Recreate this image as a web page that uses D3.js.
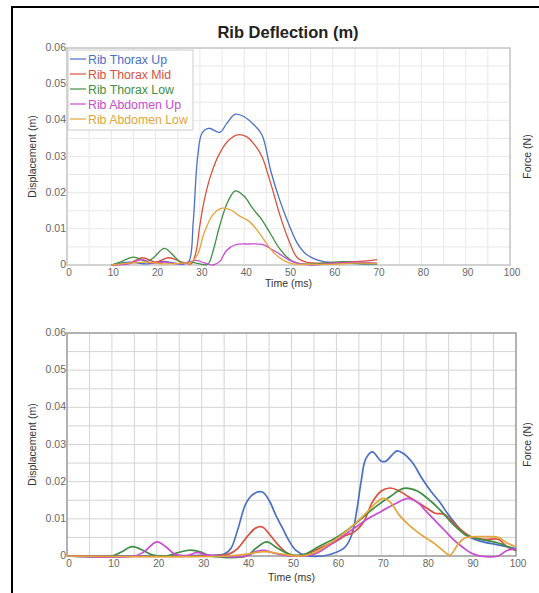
<!DOCTYPE html>
<html>
<head>
<meta charset="utf-8">
<script src="https://cdn.jsdelivr.net/npm/d3@7"></script>
<style>
  body { margin: 0; background: #fff; }
  svg { display: block; font-family: "Liberation Sans", Arial, sans-serif; }
</style>
</head>
<body>
<svg id="chart" width="539" height="593"></svg>
<script>
// series names + colors
const seriesNames = ["Rib Thorax Up", "Rib Thorax Mid", "Rib Thorax Low", "Rib Abdomen Up", "Rib Abdomen Low"];
const seriesColors = ["#4a6fc6", "#d9523e", "#3f8e43", "#c84bd0", "#e3a43a"];

const xTicks = [0, 10, 20, 30, 40, 50, 60, 70, 80, 90, 100];
const yTicks = [0, 0.01, 0.02, 0.03, 0.04, 0.05, 0.06];
const yTickLabels = ["0", "0.01", "0.02", "0.03", "0.04", "0.05", "0.06"];

// top chart: [time ms, displacement m]
const topThoraxUp = [[10,0],[14,0.0008],[18,0.0003],[22,0.001],[26,0.0002],[27.5,0.001],[28.5,0.012],[29.5,0.03],[30.5,0.0365],[32,0.0378],[34.5,0.0367],[36,0.039],[38,0.0417],[40,0.041],[42,0.039],[44,0.036],[46,0.026],[48,0.018],[50,0.0115],[52,0.006],[54,0.003],[57,0.0012],[60,0.0006],[65,0.0004],[70,0.0003]];
const topThoraxMid = [[10,0],[14,0.0005],[17,0.002],[20,0.0008],[23,0.002],[26,0.0008],[28,0.0003],[29,0.003],[30,0.011],[31,0.018],[32.5,0.025],[34.5,0.031],[36.5,0.0345],[38.5,0.036],[40.5,0.0355],[42.5,0.033],[44,0.03],[46,0.0225],[48,0.014],[50,0.007],[52,0.002],[54,0.0008],[58,0.0005],[62,0.0008],[66,0.001],[70,0.0015]];
const topThoraxLow = [[10,0],[12,0.0008],[15,0.0022],[18,0.001],[19.5,0.002],[22,0.0046],[24.5,0.002],[26,0.0005],[28,0.0008],[30,0.0003],[31.8,0.0002],[33,0.004],[34.5,0.011],[36.3,0.0175],[38,0.0205],[40,0.019],[42,0.0155],[44,0.0125],[46,0.0085],[48,0.0045],[50,0.0018],[52,0.0005],[56,0.0003],[60,0.0008],[63,0.0009],[66,0.0004],[70,0.0003]];
const topAbdomenUp = [[10,0],[14,0.0003],[17,0.0015],[19,0.0005],[22,0.0008],[25,0.0003],[27,0.0006],[29,0.0013],[31,0.0006],[33,0],[34.5,0.001],[36,0.004],[38,0.0056],[41,0.0058],[44,0.0057],[46,0.0045],[48,0.003],[50,0.0015],[52,0.0005],[55,0],[60,0.0005],[65,0.0008],[70,0.0005]];
const topAbdomenLow = [[10,0],[14,0.0005],[18,0.0008],[22,0.0003],[26,0.0005],[28,0.0008],[29.5,0.003],[31,0.009],[33,0.014],[35,0.0157],[37,0.0152],[39,0.0135],[41,0.0122],[43,0.0095],[45,0.006],[47,0.003],[49,0.0012],[51,0.0003],[55,0.0002],[60,0.0002],[65,0.0005],[70,0.0004]];

// bottom chart
const botThoraxUp = [[0,0],[10,0],[20,0],[30,0.0002],[35,0.0005],[36.5,0.002],[38,0.007],[40,0.0145],[42,0.017],[43.5,0.0172],[45,0.015],[46.5,0.011],[48,0.0075],[49.5,0.004],[51,0.0015],[53,0.0002],[57,0],[60,0.001],[62,0.0025],[63.5,0.006],[64.5,0.012],[65.5,0.02],[66.5,0.026],[68,0.028],[70,0.0255],[71,0.0255],[73.5,0.0283],[75,0.0275],[77,0.025],[79,0.021],[81,0.0175],[83,0.0145],[85,0.011],[87,0.008],[89,0.0055],[92,0.004],[96,0.003],[100,0.002]];
const botThoraxMid = [[0,0],[30,0],[36,0.0005],[38,0.002],[40,0.005],[42,0.0075],[43.5,0.0078],[45,0.006],[47,0.003],[49,0.0008],[51,0],[54,0.0008],[57,0.0025],[60,0.004],[62,0.0055],[64,0.0065],[66,0.009],[68,0.0145],[70,0.0175],[72,0.0183],[74,0.0175],[76,0.016],[78,0.0145],[80,0.013],[82,0.0115],[84,0.0112],[86,0.009],[88,0.0068],[90,0.0052],[93,0.0045],[96,0.0045],[98,0.0025],[100,0.0015]];
const botThoraxLow = [[0,0],[10,0],[12,0.001],[14.5,0.0025],[17,0.0015],[19,0.0003],[22,0],[25,0.001],[27.5,0.0016],[30,0.001],[32,0],[40,0],[42,0.002],[44.5,0.0038],[47,0.002],[50,0.0003],[53,0.0005],[56,0.0025],[60,0.005],[63,0.0075],[66,0.0105],[69,0.0135],[72,0.016],[75,0.0182],[78,0.0175],[80,0.0158],[83,0.0125],[86,0.0085],[89,0.0055],[92,0.0045],[96,0.0035],[100,0.0015]];
const botAbdomenUp = [[0,0],[15,0],[17,0.001],[20,0.0038],[22,0.0025],[24,0.0005],[27,0.0002],[29,0.001],[31,0.0003],[40,0],[42,0.0012],[44,0.0015],[46,0.0008],[50,0],[55,0.0005],[58,0.0025],[61,0.005],[64,0.0075],[67,0.01],[70,0.012],[73,0.014],[76,0.0155],[78,0.0145],[80,0.012],[82,0.0095],[84,0.007],[86,0.0045],[88,0.0025],[90,0.0008],[92,0],[96,0],[98,0.0015],[100,0.002]];
const botAbdomenLow = [[0,0],[36,0],[40,0.0005],[44,0.0012],[48,0.0005],[52,0],[55,0.0008],[58,0.003],[61,0.0055],[64,0.0085],[67,0.012],[69,0.0145],[70.5,0.0155],[72,0.0145],[74,0.011],[76,0.0085],[78,0.0065],[80,0.0048],[82,0.0032],[84,0.0012],[85.3,0.0002],[87,0.003],[88.5,0.0048],[91,0.0052],[94,0.0052],[96,0.005],[98,0.0035],[100,0.0025]];

const topSeries = [topThoraxUp, topThoraxMid, topThoraxLow, topAbdomenUp, topAbdomenLow];
const botSeries = [botThoraxUp, botThoraxMid, botThoraxLow, botAbdomenUp, botAbdomenLow];

const svg = d3.select("#chart");

// outer frame (only left and top edges show in the window)
svg.append("rect")
  .attr("x", 12).attr("y", 7)
  .attr("width", 600).attr("height", 700)
  .attr("fill", "none").attr("stroke", "#000").attr("stroke-width", 2);

svg.append("text")
  .attr("x", 288).attr("y", 38)
  .attr("text-anchor", "middle")
  .attr("font-size", 16.5).attr("font-weight", "bold")
  .attr("fill", "#222")
  .text("Rib Deflection (m)");

function drawPanel(opts) {
  const { left, right, top, bottom, series, gridColor, frameColor, strokeW, legend, timeDy } = opts;
  const x = d3.scaleLinear().domain([0, 100]).range([left, right]);
  const y = d3.scaleLinear().domain([0, 0.06]).range([bottom, top]);
  const g = svg.append("g");

  // grid every 5 ms / 0.005 m
  const gx = d3.range(5, 100, 5), gy = d3.range(0.005, 0.06, 0.005);
  g.append("g").selectAll("line").data(gx).join("line")
    .attr("x1", d => x(d)).attr("x2", d => x(d))
    .attr("y1", top).attr("y2", bottom)
    .attr("stroke", gridColor).attr("stroke-width", 1);
  g.append("g").selectAll("line").data(gy).join("line")
    .attr("x1", left).attr("x2", right)
    .attr("y1", d => y(d)).attr("y2", d => y(d))
    .attr("stroke", gridColor).attr("stroke-width", 1);

  g.append("rect")
    .attr("x", left).attr("y", top)
    .attr("width", right - left).attr("height", bottom - top)
    .attr("fill", "none").attr("stroke", frameColor).attr("stroke-width", 1.5);

  // tick labels
  g.append("g").selectAll("text").data(xTicks).join("text")
    .attr("x", d => x(d) + 2).attr("y", bottom + 11)
    .attr("text-anchor", "middle")
    .attr("font-size", 10).attr("fill", "#666")
    .text(d => d);
  g.append("g").selectAll("text").data(yTicks).join("text")
    .attr("x", left - 1).attr("y", d => y(d) + 3)
    .attr("text-anchor", "end")
    .attr("font-size", 10.5).attr("fill", "#666")
    .text((d, i) => yTickLabels[i]);

  g.append("text")
    .attr("x", (left + right) / 2).attr("y", bottom + timeDy)
    .attr("text-anchor", "middle").attr("font-size", 10.5).attr("fill", "#333")
    .text("Time (ms)");
  g.append("text")
    .attr("transform", `translate(36,${(top + bottom) / 2}) rotate(-90)`)
    .attr("text-anchor", "middle").attr("font-size", 10.5).attr("fill", "#333")
    .text("Displacement (m)");
  g.append("text")
    .attr("transform", `translate(531,${(top + bottom) / 2}) rotate(-90)`)
    .attr("text-anchor", "middle").attr("font-size", 10.5).attr("fill", "#333")
    .text("Force (N)");

  const line = d3.line()
    .x(d => x(d[0])).y(d => y(d[1]))
    .curve(d3.curveCatmullRom.alpha(0.5));

  g.append("g").selectAll("path").data(series).join("path")
    .attr("d", line)
    .attr("fill", "none")
    .attr("stroke", (d, i) => seriesColors[i])
    .attr("stroke-width", strokeW)
    .attr("stroke-linejoin", "round");

  if (legend) {
    const lg = g.append("g");
    lg.append("rect")
      .attr("x", left + 1).attr("y", top + 2)
      .attr("width", 125).attr("height", 80)
      .attr("fill", "#fff").attr("stroke", "#ccc");
    const row = lg.selectAll("g").data(seriesNames).join("g")
      .attr("transform", (d, i) => `translate(${left + 3},${top + 11 + i * 15})`);
    row.append("line")
      .attr("x1", 0).attr("x2", 16)
      .attr("stroke", (d, i) => seriesColors[i]).attr("stroke-width", 1.2);
    row.append("text")
      .attr("x", 18).attr("y", 4.5)
      .attr("font-size", 12.3)
      .attr("fill", (d, i) => seriesColors[i])
      .text(d => d);
  }
}

drawPanel({ left: 67, right: 510, top: 48, bottom: 265, series: topSeries,
  gridColor: "#e8e8e8", frameColor: "#c4c4c4", strokeW: 1.3, legend: true, timeDy: 22 });
drawPanel({ left: 67, right: 516, top: 333, bottom: 556, series: botSeries,
  gridColor: "#d4d4d4", frameColor: "#999", strokeW: 1.7, legend: false, timeDy: 25 });
</script>
</body>
</html>
